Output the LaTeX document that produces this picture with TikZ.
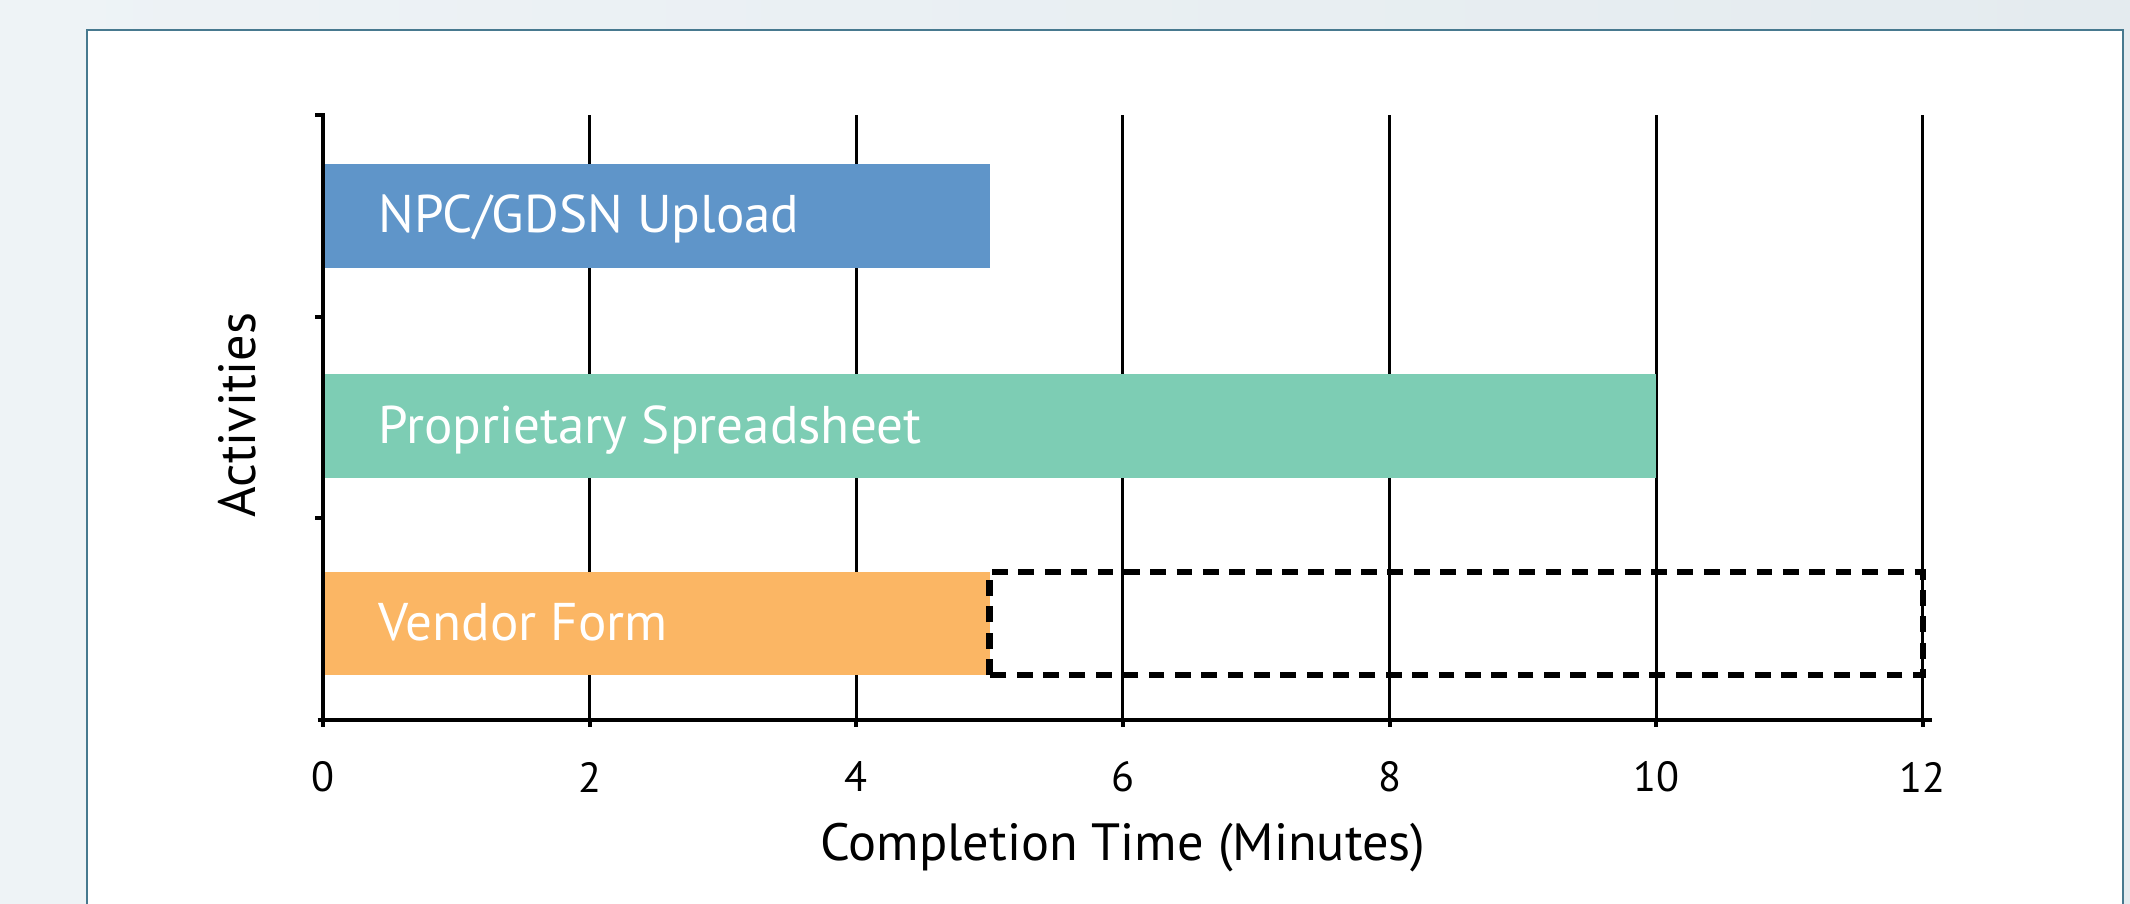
\documentclass[tikz,border=0pt]{standalone}
\usepackage{fontspec}
\setmainfont{PT Sans}
\usepackage{tikz}

\definecolor{npcblue}{HTML}{5F95C9}
\definecolor{propgreen}{HTML}{7DCDB4}
\definecolor{vendororange}{HTML}{FBB664}
\definecolor{framecol}{HTML}{47798F}
\definecolor{bgleft}{HTML}{EEF3F6}
\definecolor{bgright}{HTML}{E4EBEF}

\begin{document}
\begin{tikzpicture}[
    gridline/.style={line width=0.85pt},
    axisline/.style={line width=1.1pt},
    barlabel/.style={anchor=base west, inner sep=0pt, text=white, font=\fontsize{15.1}{17}\selectfont},
    ticklabel/.style={inner sep=0pt, font=\fontsize{12}{14}\selectfont},
    axislabel/.style={anchor=base, inner sep=0pt, font=\fontsize{14.9}{17}\selectfont}
]
    \useasboundingbox (0,0) rectangle (21.3,9.03);
    \shade[left color=bgleft, right color=bgright] (0,0) rectangle (21.3,9.03);
    \fill[white] (0.87,-0.1) rectangle (21.23,8.73);
    \draw[framecol, line width=0.8pt] (0.87,-0.1) -- (0.87,8.73) -- (21.23,8.73) -- (21.23,-0.1);

\begin{scope}[shift={(3.23cm,1.83cm)}, x=1.3333cm, y=1cm]
    \foreach \m in {2,4,...,12}
        \draw[gridline] (\m,0) -- (\m,6.05);

    \fill[npcblue] (0,4.52) rectangle (5,5.56);
    \fill[propgreen] (0,2.42) rectangle (10,3.46);
    \fill[vendororange] (0,0.45) rectangle (5,1.48);
    \draw[line width=1.9pt, dash pattern=on 4.5pt off 3pt] (5,0.45) rectangle (12,1.48);

    % axes and ticks
    \draw[axisline] (-0.04,0) -- (12.07,0);
    \draw[axisline] (-0.06,6.05) -- (0,6.05) -- (0,0);
    \foreach \m in {0,2,...,12}
        \draw[axisline] (\m,0) -- (\m,-0.07);
    \foreach \c in {2.017,4.033}
        \draw[axisline] (0,\c) -- (-0.06,\c);

    \foreach \m in {0,2,...,12}
        \node[ticklabel] (tick\m) at (\m,-0.57) {\m};

    \node[barlabel] (npc) at (0.41,4.87) {NPC/GDSN Upload};
    \node[barlabel] (proprietary) at (0.41,2.77) {Proprietary Spreadsheet};
    \node[barlabel] (vendor) at (0.41,0.795) {Vendor Form};

    \node[axislabel] (xlabel) at (6,-1.40) {Completion Time (Minutes)};
    \node[axislabel, rotate=90] (ylabel) at (-0.51,3.05) {Activities};
\end{scope}
\end{tikzpicture}
\end{document}
